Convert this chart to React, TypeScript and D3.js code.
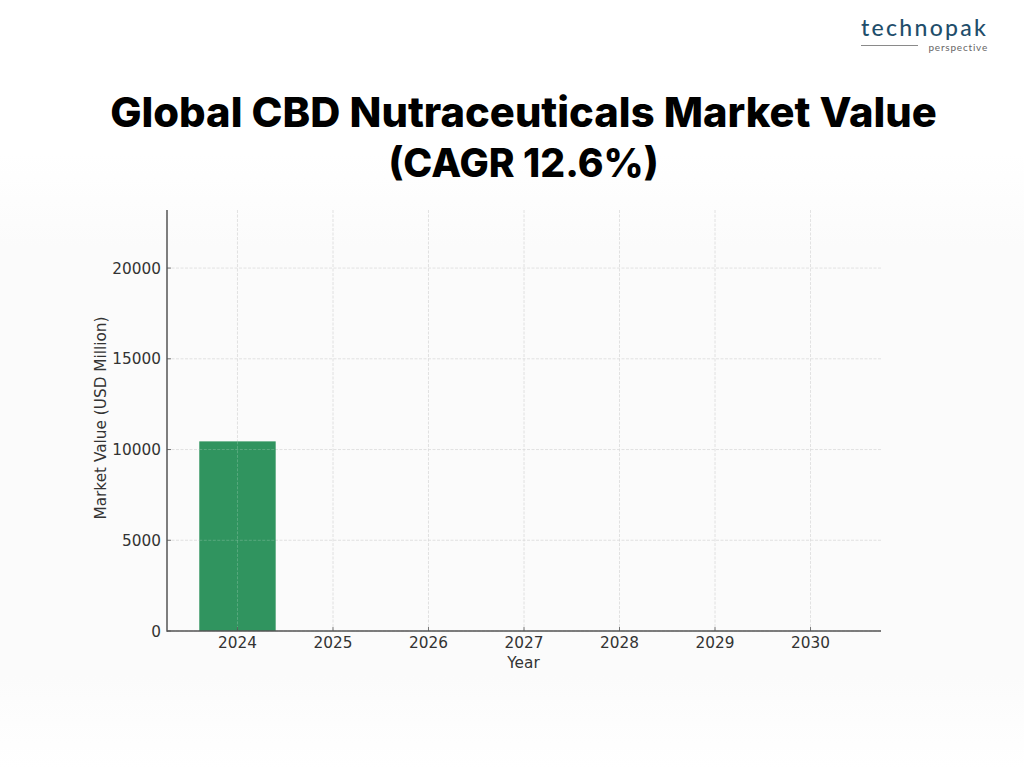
import React from 'react';
import * as d3 from 'd3';

const WIDTH = 1024;
const HEIGHT = 768;

const years = ['2024', '2025', '2026', '2027', '2028', '2029', '2030'];
// only the first bar is visible in this frame
const barYears = ['2024'];
const barValues = [10450];
const yTicks = [0, 5000, 10000, 15000, 20000];
const titleLines = ['Global CBD Nutraceuticals Market Value', '(CAGR 12.6%)'];

const MARGIN = { top: 210, right: 143, bottom: 137, left: 167 };
const TICK_FONT = '"DejaVu Sans", sans-serif';
const TICK_SIZE = 15.3;
const TEXT_COLOR = '#333333';
const GRID_COLOR = '#dadada';
const AXIS_COLOR = '#555555';
const BAR_COLOR = '#30945f';

const App: React.FC = () => {
  const innerBottom = HEIGHT - MARGIN.bottom;
  const innerRight = WIDTH - MARGIN.right;

  const x = d3.scaleBand<string>()
    .domain(years)
    .range([MARGIN.left, innerRight])
    .paddingInner(0.2)
    .paddingOuter(0.338);

  const y = d3.scaleLinear()
    .domain([0, 23200])
    .range([innerBottom, MARGIN.top]);

  const xCenter = (d: string) => (x(d) as number) + x.bandwidth() / 2;

  return (
    <svg
      width={WIDTH}
      height={HEIGHT}
      viewBox={`0 0 ${WIDTH} ${HEIGHT}`}
      style={{ position: 'absolute', left: 0, top: 0, display: 'block' }}
    >
      <defs>
        <linearGradient id="pageBg" x1="0" x2="0" y1="0" y2="1">
          <stop offset="0.2" stopColor="#ffffff" />
          <stop offset="0.32" stopColor="#fbfbfb" />
          <stop offset="0.88" stopColor="#fbfbfb" />
          <stop offset="1" stopColor="#ffffff" />
        </linearGradient>
      </defs>
      <rect x={0} y={0} width={WIDTH} height={HEIGHT} fill="url(#pageBg)" />

      {/* Logo */}
      <text x={861} y={35.5} fontFamily='Lato, sans-serif' fontSize={23} fontWeight={500}
        letterSpacing={2.3} fill="#1f4e6b">technopak</text>
      <line x1={861} x2={918} y1={45.5} y2={45.5} stroke="#8a8a8a" strokeWidth={1} />
      <text x={988} y={50.5} textAnchor="end" fontFamily='Lato, sans-serif' fontSize={10}
        letterSpacing={0.8} fill="#666666">perspective</text>

      {/* Title */}
      {titleLines.map((line, i) => (
        <text key={line} x={523.5} y={127 + i * 50} textAnchor="middle"
          fontFamily='Inter, "Open Sans", sans-serif' fontSize={i === 0 ? 41.7 : 39} fontWeight={800} fill="#000000">
          {line}
        </text>
      ))}

      {/* Grid */}
      {years.map(d => (
        <line key={d} x1={xCenter(d)} x2={xCenter(d)} y1={MARGIN.top} y2={innerBottom}
          stroke={GRID_COLOR} strokeWidth={0.8} strokeDasharray="3 1.5" />
      ))}
      {yTicks.map(t => (
        <line key={t} x1={MARGIN.left} x2={innerRight} y1={y(t)} y2={y(t)}
          stroke={GRID_COLOR} strokeWidth={0.8} strokeDasharray="3 1.5" />
      ))}

      {/* Bars */}
      {barYears.map((d, i) => (
        <rect key={d} x={x(d)} y={y(barValues[i])} width={x.bandwidth()}
          height={innerBottom - y(barValues[i])} fill={BAR_COLOR} />
      ))}
      {/* grid stays faintly visible over the bar */}
      {barYears.map((d, i) => (
        <g key={d}>
          <line x1={xCenter(d)} x2={xCenter(d)} y1={y(barValues[i])} y2={innerBottom}
            stroke="#ffffff" strokeOpacity={0.25} strokeWidth={0.8} strokeDasharray="3 1.5" />
          {yTicks.filter(t => t > 0 && t < barValues[i]).map(t => (
            <line key={t} x1={x(d)} x2={(x(d) as number) + x.bandwidth()} y1={y(t)} y2={y(t)}
              stroke="#ffffff" strokeOpacity={0.25} strokeWidth={0.8} strokeDasharray="3 1.5" />
          ))}
        </g>
      ))}

      {/* Axes */}
      <line x1={MARGIN.left} x2={MARGIN.left} y1={MARGIN.top} y2={innerBottom + 0.75}
        stroke={AXIS_COLOR} strokeWidth={1.5} />
      <line x1={MARGIN.left} x2={innerRight} y1={innerBottom} y2={innerBottom}
        stroke={AXIS_COLOR} strokeWidth={1.5} />

      {years.map(d => (
        <g key={d}>
          <line x1={xCenter(d)} x2={xCenter(d)} y1={innerBottom} y2={innerBottom - 4}
            stroke={AXIS_COLOR} strokeWidth={0.8} />
          <text x={xCenter(d)} y={647.5} textAnchor="middle" fontFamily={TICK_FONT} fontSize={TICK_SIZE}
            fill={TEXT_COLOR}>{d}</text>
        </g>
      ))}
      {yTicks.map(t => (
        <g key={t}>
          <line x1={MARGIN.left} x2={MARGIN.left + 4} y1={y(t)} y2={y(t)}
            stroke={AXIS_COLOR} strokeWidth={0.8} />
          <text x={161} y={y(t) + 5.5} textAnchor="end" fontFamily={TICK_FONT} fontSize={TICK_SIZE}
            fill={TEXT_COLOR}>{t}</text>
        </g>
      ))}

      <text x={523.5} y={667.5} textAnchor="middle" fontFamily={TICK_FONT} fontSize={TICK_SIZE}
        fill={TEXT_COLOR}>Year</text>
      <text transform={`translate(105.5,418) rotate(-90)`} textAnchor="middle" fontFamily={TICK_FONT}
        fontSize={TICK_SIZE} fill={TEXT_COLOR}>Market Value (USD Million)</text>
    </svg>
  );
};

export default App;
